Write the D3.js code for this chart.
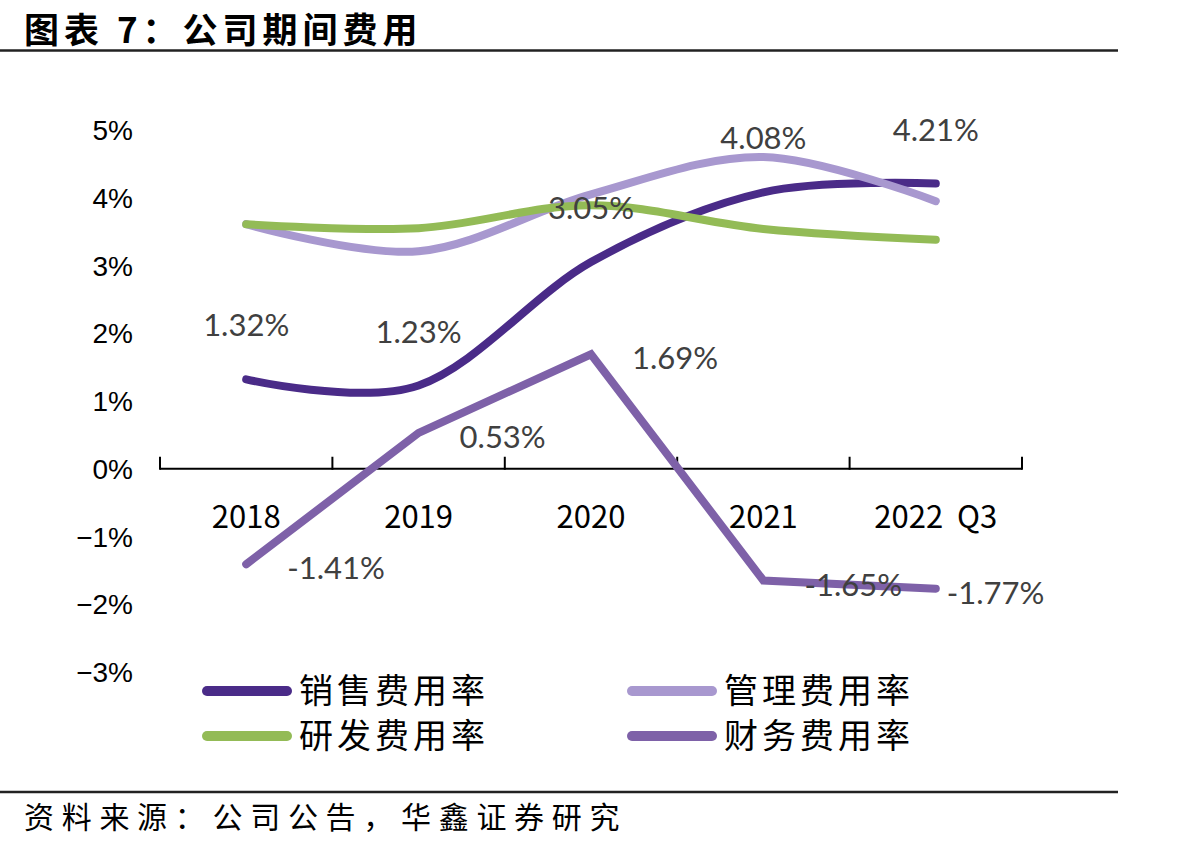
<!DOCTYPE html>
<html lang="zh">
<head>
    <meta charset="UTF-8">
    <title>公司期间费用</title>
    <script src="https://cdnjs.cloudflare.com/ajax/libs/d3/7.8.5/d3.min.js"></script>
    <style>
        body{
            margin:0;
            background:#fff;
        }
        svg{
            display:block;
        }
        .cjk{
            font-family:"Noto Sans CJK SC", sans-serif;
        }
    </style>
</head>
<body>
    <svg width="1191" height="846"></svg>

<script>
// data
const years = ["2018", "2019", "2020", "2021", "2022  Q3"];
const yTicks = [5, 4, 3, 2, 1, 0, -1, -2, -3];

const sales   = [1.32, 1.23, 3.05, 4.08, 4.21];   // 销售费用率
const admin   = [3.61, 3.21, 4.05, 4.60, 3.95];   // 管理费用率
const rnd     = [3.61, 3.55, 3.89, 3.54, 3.38];   // 研发费用率
const finance = [-1.41, 0.53, 1.69, -1.65, -1.77]; // 财务费用率

const seriesNames = ["销售费用率", "管理费用率", "研发费用率", "财务费用率"];
const seriesColors = ["#4a2b88", "#a898cf", "#93bb56", "#7e61a8"];

const svg = d3.select("svg");

svg.append("rect").attr("width", 1191).attr("height", 846).attr("fill", "#fff");

// title + rules
svg.append("text")
    .attr("class", "cjk")
    .attr("x", 24).attr("y", 43)
    .attr("font-size", 35)
    .attr("font-weight", 700)
    .attr("letter-spacing", 5)
    .text("图表 7：公司期间费用");

svg.append("line")
    .attr("x1", 0).attr("x2", 1118)
    .attr("y1", 50.5).attr("y2", 50.5)
    .attr("stroke", "#222").attr("stroke-width", 2.5);

svg.append("line")
    .attr("x1", 0).attr("x2", 1118)
    .attr("y1", 792).attr("y2", 792)
    .attr("stroke", "#222").attr("stroke-width", 2.5);

svg.append("text")
    .attr("class", "cjk")
    .attr("x", 24).attr("y", 828)
    .attr("font-size", 30)
    .attr("letter-spacing", 7.7)
    .text("资料来源：公司公告，华鑫证券研究");

// scales
const x = d3.scaleBand().domain(years).range([160, 1022]);
const cx = d => x(d) + x.bandwidth() / 2;
const y = d3.scaleLinear().domain([-3, 5]).range([672, 130]);

// y labels (no axis line)
svg.append("g")
    .selectAll("text")
    .data(yTicks)
    .enter()
    .append("text")
    .attr("x", 133)
    .attr("y", d => y(d))
    .attr("dy", "0.36em")
    .attr("text-anchor", "end")
    .attr("font-family", "'Liberation Sans', Arial, sans-serif")
    .attr("font-size", 28)
    .attr("fill", "#000")
    .text(d => (d < 0 ? "\u2212" + Math.abs(d) : d) + "%");

// x axis at zero, ticks pointing up between categories
const y0 = y(0);
const bounds = years.map(d => x(d)).concat([x.range()[1]]);
const axis = svg.append("g");
axis.append("line")
    .attr("x1", bounds[0]).attr("x2", bounds[bounds.length - 1])
    .attr("y1", y0).attr("y2", y0)
    .attr("stroke", "#000").attr("stroke-width", 2);
axis.selectAll(".tick")
    .data(bounds)
    .enter()
    .append("line")
    .attr("x1", d => d).attr("x2", d => d)
    .attr("y1", y0 + 1).attr("y2", y0 - 12)
    .attr("stroke", "#000").attr("stroke-width", 2);
axis.selectAll("text")
    .data(years)
    .enter()
    .append("text")
    .attr("x", d => cx(d))
    .attr("y", 528)
    .attr("text-anchor", "middle")
    .attr("font-family", "'Noto Sans CJK SC', sans-serif")
    .attr("font-size", 31)
    .attr("fill", "#000")
    .attr("xml:space", "preserve")
    .style("white-space", "pre")
    .text(d => d);

// lines
const smooth = d3.line()
    .x((d, i) => cx(years[i]))
    .y(d => y(d))
    .curve(d3.curveCardinal.tension(0));
const straight = d3.line()
    .x((d, i) => cx(years[i]))
    .y(d => y(d));

const allSeries = [sales, admin, rnd, finance];
svg.append("g")
    .selectAll("path")
    .data(allSeries)
    .enter()
    .append("path")
    .attr("d", (d, i) => i === 3 ? straight(d) : smooth(d))
    .attr("fill", "none")
    .attr("stroke", (d, i) => seriesColors[i])
    .attr("stroke-width", 8)
    .attr("stroke-linecap", "round")
    .attr("stroke-linejoin", "miter");

// data labels
const fmt = v => v.toFixed(2) + "%";
const labels = svg.append("g")
    .attr("font-family", "Lato, 'Open Sans', sans-serif")
    .attr("font-size", 31)
    .attr("fill", "#404040");

labels.selectAll(".s")
    .data(sales)
    .enter()
    .append("text")
    .attr("x", (d, i) => cx(years[i]))
    .attr("y", d => y(d) - 54)
    .attr("dy", "0.36em")
    .attr("text-anchor", "middle")
    .text(fmt);

labels.selectAll(".f")
    .data(finance)
    .enter()
    .append("text")
    .attr("x", (d, i) => cx(years[i]) + (i === finance.length - 1 ? 11 : 41))
    .attr("y", d => y(d) + 4)
    .attr("dy", "0.36em")
    .attr("text-anchor", "start")
    .text(fmt);

// legend
const legend = svg.append("g")
    .selectAll("g")
    .data(seriesNames)
    .enter()
    .append("g")
    .attr("transform", (d, i) => `translate(${i % 2 === 0 ? 207 : 632},${i < 2 ? 691 : 736})`);
legend.append("line")
    .attr("x1", 0).attr("x2", 80)
    .attr("stroke", (d, i) => seriesColors[i])
    .attr("stroke-width", 10)
    .attr("stroke-linecap", "round");
legend.append("text")
    .attr("class", "cjk")
    .attr("x", 92)
    .attr("dy", "0.36em")
    .attr("font-size", 34)
    .attr("letter-spacing", 4)
    .attr("fill", "#000")
    .text(d => d);
</script>
</body>
</html>
